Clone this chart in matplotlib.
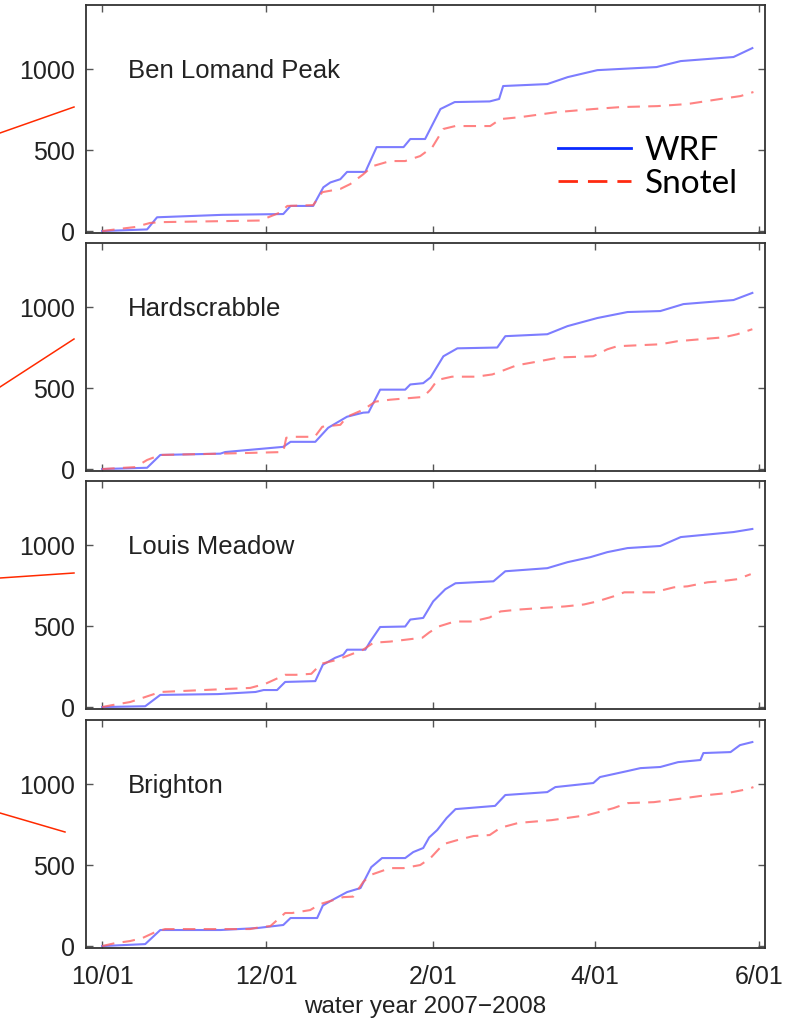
import matplotlib
matplotlib.use('Agg')
import matplotlib.pyplot as plt
from matplotlib.lines import Line2D

# days since 10/01/2007, cumulative precipitation (mm)
stations = ['Ben Lomand Peak', 'Hardscrabble', 'Louis Meadow', 'Brighton']

ben_wrf_day = [0, 16.7, 20.4, 44.6, 67.3, 70, 78.4, 82.2, 84.8, 88.5, 91, 97.8, 102, 112, 114.5, 120,
               125.7, 131, 144, 147.5, 149, 165.4, 173, 184, 206, 215, 234.6, 241.6]
ben_wrf = [0, 10, 85, 100, 105, 155, 155, 270, 300, 320, 365, 365, 518, 518, 568, 568,
           753, 796, 800, 815, 895, 907, 950, 993, 1012, 1049, 1074, 1129]
ben_sno_day = [0, 12.3, 17.8, 21.6, 58.7, 66.2, 68.8, 78.4, 81.8, 88.5, 92.2, 97, 100.4, 107, 112.6,
               118.2, 122.7, 126.8, 131.2, 144.2, 148, 155.4, 169, 182.5, 192.6, 206.3, 217.5, 229.7,
               237.2, 242]
ben_sno = [0, 25, 50, 55, 65, 115, 155, 160, 240, 260, 290, 350, 400, 432, 432,
           463, 518, 630, 648, 648, 691, 703, 734, 753, 765, 771, 784, 815, 833, 858]

hard_wrf_day = [0, 16.7, 21.6, 43.9, 45.7, 67.3, 70, 79.2, 84, 91, 97, 99, 103.3, 112.6, 114.5,
                119.3, 122, 126.8, 132, 146.8, 149.8, 165.4, 172.9, 184, 195.2, 207.4, 216, 234.6,
                241.6]
hard_wrf = [0, 8, 87, 95, 105, 137, 168, 168, 255, 323, 348, 350, 490, 490, 522,
            530, 565, 696, 745, 750, 820, 832, 882, 932, 969, 975, 1018, 1043, 1087]
hard_sno_day = [0, 12.3, 16.7, 21.6, 43.9, 67.3, 68.4, 71, 79, 81.8, 88.5, 91, 97, 101.5, 107,
                119.3, 122, 124.6, 130, 139, 145, 148, 154, 160, 170, 182.5, 187.7, 191.4, 207.4,
                213.8, 222.3, 231, 236, 241.6]
hard_sno = [0, 12, 56, 87, 95, 105, 193, 199, 199, 261, 273, 323, 366, 416, 428,
            445, 490, 550, 570, 570, 584, 602, 640, 658, 689, 696, 739, 758, 770,
            789, 801, 813, 832, 863]

louis_wrf_day = [0, 16, 21.6, 43, 57, 60, 65, 68, 79.2, 82, 86.6, 89.6, 91, 97.8, 99.6, 103.3,
                 112.6, 114.5, 119.3, 123, 127.5, 131.3, 145.4, 149.8, 165.4, 172.9, 181.4, 187.7,
                 195.2, 207.4, 215, 227, 234.6, 241.6]
louis_wrf = [0, 5, 75, 80, 93, 105, 105, 155, 160, 261, 304, 323, 354, 354, 404, 494,
             497, 540, 550, 652, 727, 764, 776, 838, 857, 894, 925, 956,
             981, 994, 1049, 1068, 1080, 1099]
louis_sno_day = [0, 3.7, 10.4, 16, 21.6, 55, 60.6, 68, 72, 77.7, 81.4, 87, 92.2, 97, 100.8, 107,
                 113, 119, 121.5, 125, 131, 137.5, 144, 148, 155, 172, 179, 184, 190, 194, 205,
                 212.5, 217.5, 225, 229.7, 236, 241]
louis_sno = [0, 12, 31, 62, 93, 118, 143, 199, 199, 205, 267, 290, 323, 354, 397, 404,
             416, 428, 460, 497, 528, 528, 553, 590, 602, 621, 633, 652, 683, 708, 708,
             739, 745, 770, 776, 789, 820]

bri_wrf_day = [0, 16, 21.6, 44, 57.6, 67.3, 70, 79.9, 82, 85.5, 91, 96, 100, 104, 112.6, 115.6,
               119.3, 121.5, 124.5, 128, 131.3, 146, 149.8, 165.4, 168.4, 182.5, 185, 195.2, 200,
               207.4, 214, 222.3, 223.4, 233.5, 237, 241.6]
bri_wrf = [0, 12, 99, 99, 111, 130, 173, 173, 250, 284, 333, 358, 487, 543, 543, 580,
           605, 670, 716, 790, 845, 865, 932, 950, 981, 1006, 1043, 1080, 1098,
           1105, 1135, 1148, 1191, 1197, 1240, 1259]
bri_sno_day = [0, 4.8, 10.4, 14.9, 19.7, 23.4, 55, 58.7, 62.5, 68, 70.6, 77.3, 81, 89.6, 93.3, 97,
               99.6, 107, 112, 118.2, 122, 126.8, 132, 138, 144, 148, 154.7, 167, 180.3, 190,
               195.2, 205, 213.8, 225, 232.3, 240, 242]
bri_sno = [0, 18, 31, 49, 86, 105, 105, 117, 123, 204, 204, 222, 259, 302, 305, 395,
           438, 481, 481, 500, 543, 629, 654, 679, 685, 730, 760, 777, 808, 851,
           882, 888, 907, 932, 944, 969, 981]

wrf_days = [ben_wrf_day, hard_wrf_day, louis_wrf_day, bri_wrf_day]
wrf_vals = [ben_wrf, hard_wrf, louis_wrf, bri_wrf]
sno_days = [ben_sno_day, hard_sno_day, louis_sno_day, bri_sno_day]
sno_vals = [ben_sno, hard_sno, louis_sno, bri_sno]

tick_days = [0, 61, 123, 183, 244]
tick_labels = ['10/01', '12/01', '2/01', '4/01', '6/01']
yticks = [0, 500, 1000]

# red pointer lines coming in from the left (pixel coords, top-left origin)
pointers = [((0, 133), (74, 107)), ((0, 387), (74, 339)),
            ((0, 578), (74, 573)), ((0, 813), (65, 832))]

W, H = 799, 1021


def main():
    plt.rcParams['font.family'] = ['Liberation Sans', 'DejaVu Sans']
    fig = plt.figure(figsize=(W / 100, H / 100), dpi=100)

    tops = [5, 243, 481, 720]
    axh = 228
    axes = []
    for i, name in enumerate(stations):
        ax = fig.add_axes([86 / W, 1 - (tops[i] + axh) / H, (765 - 86) / W, axh / H])
        ax.plot(wrf_days[i], wrf_vals[i], color='#5c5cff', lw=1.5, alpha=0.8)
        ax.plot(sno_days[i], sno_vals[i], color='#ff6464', lw=1.5, alpha=0.8,
                dashes=(6, 4))
        ax.set_xlim(-6, 246.3)
        ax.set_ylim(-12, 1395)
        ax.set_yticks(yticks)
        ax.set_xticks(tick_days)
        if i == len(stations) - 1:
            ax.set_xticklabels(tick_labels)
        else:
            ax.set_xticklabels([])
        ax.tick_params(direction='in', top=True, right=True, length=5, width=1,
                       color='#555555', labelsize=18, labelcolor='#222222', pad=8)
        ax.tick_params(axis='x', pad=12)
        for s in ax.spines.values():
            s.set_color('#333333')
            s.set_linewidth(1.3)
        ax.text(9.7, 985, name, fontsize=18.5, color='#222222', va='center', ha='left')
        axes.append(ax)

    axes[-1].set_xlabel('water year 2007\u22122008', fontsize=17.5, color='#222222', labelpad=5)

    handles = [Line2D([], [], color='#0a2aff', lw=2),
               Line2D([], [], color='#ff2a10', lw=2, dashes=(7, 3.6))]
    fig.legend(handles, ['WRF', 'Snotel'], loc='upper left',
               bbox_to_anchor=(558 / W, 1 - 136 / H), frameon=False,
               prop={'family': 'Lato', 'size': 24}, handlelength=2.2,
               handletextpad=0.4, labelspacing=0.08, borderpad=0, borderaxespad=0)

    for (x0, y0), (x1, y1) in pointers:
        fig.add_artist(Line2D([x0 / W, x1 / W], [1 - y0 / H, 1 - y1 / H],
                              color='#ff2a00', lw=1.1, transform=fig.transFigure))

    fig.savefig('out.png', dpi=100)


if __name__ == "__main__":
    main()
